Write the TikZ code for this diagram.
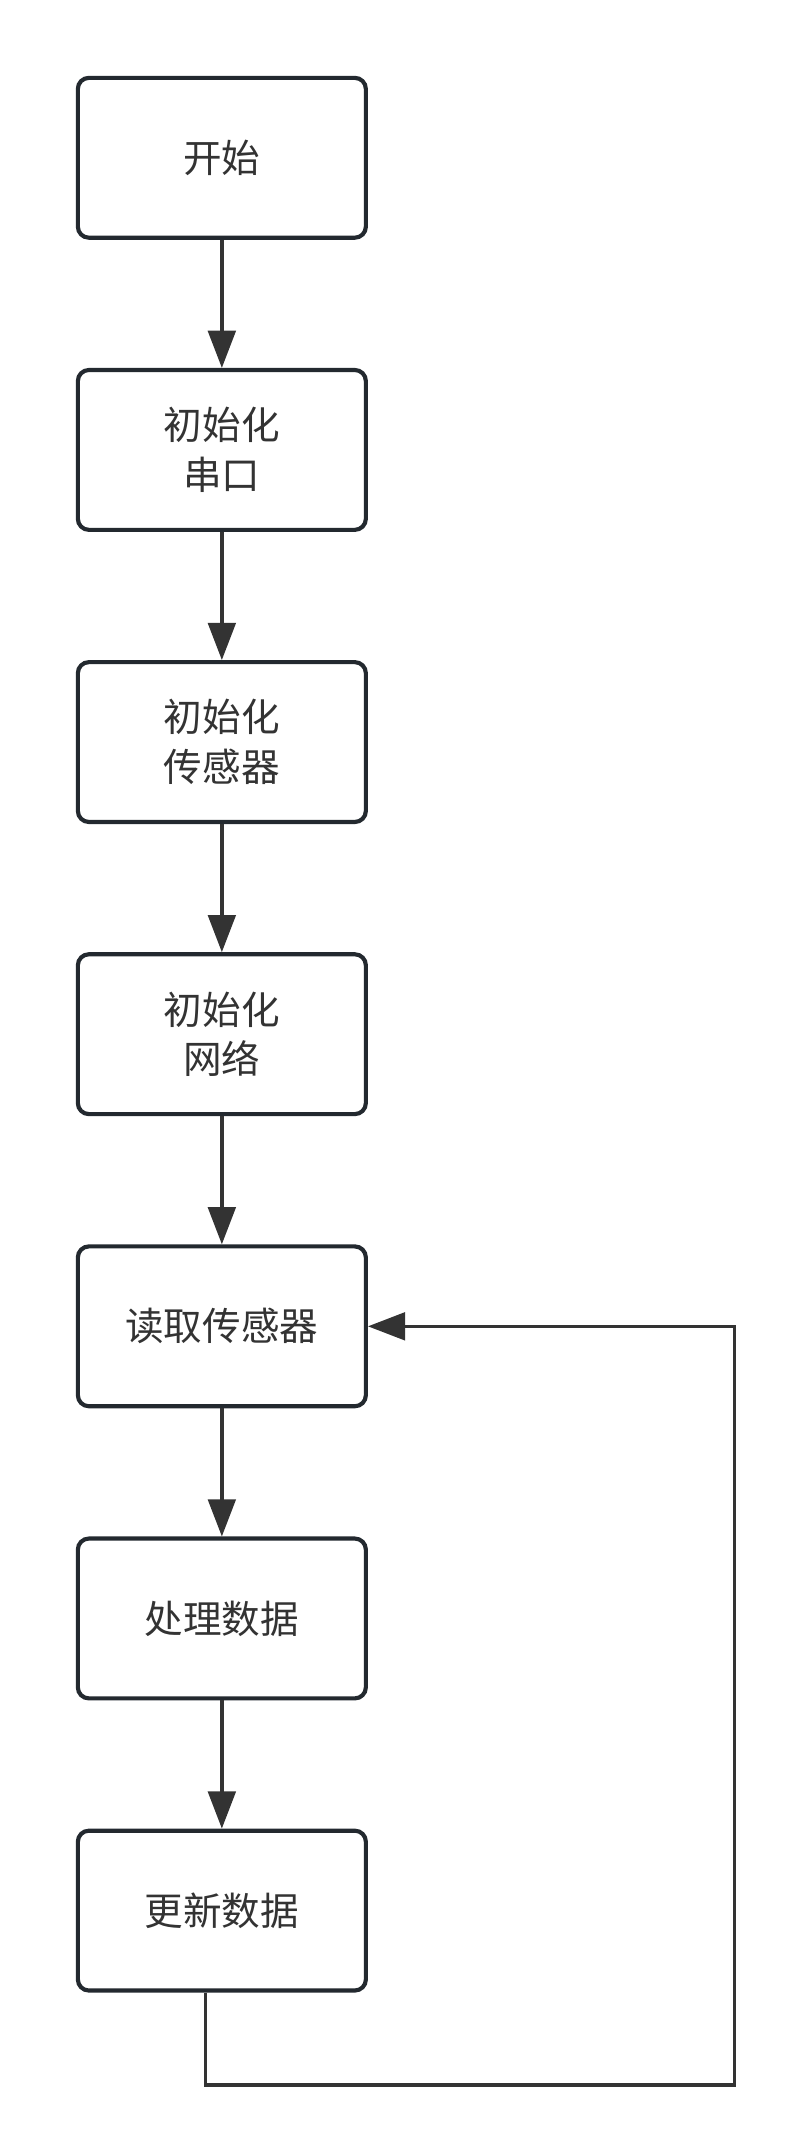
\documentclass[tikz,border=0pt]{standalone}
\usepackage{fontspec}
\newfontfamily\cjk{Noto Sans CJK SC}
\usetikzlibrary{arrows.meta}
\definecolor{boxc}{HTML}{23292F}
\definecolor{linec}{HTML}{333333}
\definecolor{txt}{HTML}{333333}
\begin{document}
\begin{tikzpicture}[x=1pt,y=-1pt,
  box/.style={draw=boxc, line width=3pt, rounded corners=8pt, minimum width=209pt, minimum height=116pt, inner sep=0pt, align=center, font=\cjk\fontsize{28}{36}\selectfont, text=txt, fill=white},
  arr/.style={draw=linec, line width=2.5pt, line join=miter, -{Triangle[length=27pt,width=20pt]}}]
\useasboundingbox (0,0) rectangle (580,1545);
\node[box] (n1) at (161,114.5) {开始};
\node[box] (n2) at (161,326.5) {初始化\\串口};
\node[box] (n3) at (161,538.5) {初始化\\传感器};
\node[box] (n4) at (161,750.5) {初始化\\网络};
\node[box] (n5) at (161,962.5) {读取传感器};
\node[box] (n6) at (161,1174.5) {处理数据};
\node[box] (n7) at (161,1386.5) {更新数据};
\draw[arr] (n1.south) -- (n2.north);
\draw[arr] (n2.south) -- (n3.north);
\draw[arr] (n3.south) -- (n4.north);
\draw[arr] (n4.south) -- (n5.north);
\draw[arr] (n5.south) -- (n6.north);
\draw[arr] (n6.south) -- (n7.north);
\coordinate (c1) at (149,1513);
\coordinate (c2) at (533,1513);
\draw[arr] (n7.south -| c1) -- (c1) -- (c2) -- (c2 |- n5.east) -- (n5.east);
\end{tikzpicture}
\end{document}
